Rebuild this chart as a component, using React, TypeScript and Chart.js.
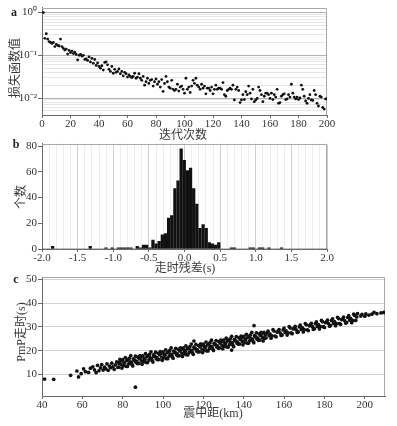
import React, { useEffect, useRef } from 'react';
import { Chart, registerables } from 'chart.js';
Chart.register(...registerables);

// ---------------- data: panel a (loss vs iteration) ----------------
const lossValues = [
  1.0, 0.25, 0.32, 0.24, 0.21, 0.2, 0.19, 0.2, 0.16, 0.18,
  0.17, 0.165, 0.24, 0.16, 0.145, 0.133, 0.14, 0.107, 0.13, 0.115,
  0.125, 0.11, 0.118, 0.105, 0.078, 0.1, 0.105, 0.096, 0.1, 0.08,
  0.082, 0.076, 0.092, 0.07, 0.085, 0.065, 0.08, 0.058, 0.066, 0.055,
  0.05, 0.057, 0.045, 0.068, 0.07, 0.06, 0.047, 0.042, 0.055, 0.038,
  0.047, 0.04, 0.042, 0.048, 0.037, 0.042, 0.033, 0.04, 0.037, 0.031,
  0.035, 0.032, 0.03, 0.032, 0.038, 0.029, 0.031, 0.037, 0.029, 0.026,
  0.032, 0.02, 0.024, 0.029, 0.022, 0.026, 0.027, 0.019, 0.024, 0.028,
  0.021, 0.024, 0.018, 0.027, 0.0143, 0.022, 0.032, 0.024, 0.018, 0.017,
  0.026, 0.016, 0.015, 0.016, 0.021, 0.0145, 0.018, 0.019, 0.016, 0.013,
  0.029, 0.016, 0.018, 0.0135, 0.019, 0.026, 0.022, 0.029, 0.02, 0.018,
  0.016, 0.021, 0.017, 0.019, 0.0125, 0.017, 0.017, 0.015, 0.018, 0.0125,
  0.016, 0.02, 0.016, 0.017, 0.017, 0.016, 0.023, 0.012, 0.011, 0.015,
  0.016, 0.017, 0.016, 0.02, 0.009, 0.016, 0.018, 0.015, 0.0078, 0.009,
  0.012, 0.0092, 0.014, 0.012, 0.019, 0.013, 0.0095, 0.016, 0.0082, 0.009,
  0.0098, 0.018, 0.015, 0.012, 0.0082, 0.011, 0.013, 0.013, 0.012, 0.0098,
  0.013, 0.0092, 0.012, 0.0105, 0.016, 0.0075, 0.0078, 0.011, 0.012, 0.0125,
  0.0092, 0.0095, 0.012, 0.0105, 0.021, 0.013, 0.0105, 0.0095, 0.0105, 0.0092,
  0.01, 0.02, 0.016, 0.011, 0.0085, 0.0075, 0.0098, 0.012, 0.009, 0.0088,
  0.015, 0.012, 0.0075, 0.0065, 0.011, 0.0105, 0.006, 0.0055, 0.0095, 0.0095,
];
const lossTicksX = [0, 20, 40, 60, 80, 100, 120, 140, 160, 180, 200];
const lossDecades = [1, 0.1, 0.01];
const lossDecadeLabels = ['10⁰', '10⁻¹', '10⁻²'];
const lossMin = 0.004;
const lossMax = 1.31;

// ---------------- data: panel b (residual histogram) ----------------
const residBinStart = -2.005;
const residBinWidth = 0.044;
const residCounts = [
  0, 0, 0, 2, 0, 0, 0, 0, 0, 0,
  0, 0, 0, 0, 0, 2, 0, 0, 0, 0,
  1, 0, 1, 0, 1, 1, 1, 1, 1, 0,
  2, 1, 3, 3, 1, 7, 4, 6, 11, 12,
  24, 26, 47, 53, 78, 69, 61, 63, 47, 35,
  16, 19, 16, 5, 4, 3, 5, 0, 0, 0,
  1, 1, 0, 0, 0, 0, 1, 1, 0, 1,
  1, 0, 1, 0, 0, 0, 1, 0, 0, 0,
  0, 0, 0, 0, 0, 0, 0, 0, 0, 0, 0,
];
const residTicksX = [-2, -1.5, -1, -0.5, 0, 0.5, 1, 1.5, 2];
const residTicksY = [0, 20, 40, 60, 80];

// ---------------- data: panel c (PmP travel time vs distance) ----------------
const pnmpPoints: [number, number][] = [
  [41.3, 8.1], [45.8, 8.0], [54.2, 9.7], [57.3, 11.5], [58.1, 9.0], [59.4, 10.4], [60.6, 12.4], [61.5, 11.2],
  [63.1, 10.9], [64.0, 12.7], [65.2, 13.3], [66.0, 12.0], [66.8, 10.8], [67.5, 13.9], [68.2, 11.6], [69.0, 12.8],
  [69.6, 14.2], [70.3, 11.9], [71.0, 13.1], [71.6, 12.4], [72.2, 14.5], [72.8, 11.8], [73.4, 13.6], [74.0, 12.9],
  [74.6, 14.8], [75.2, 13.3], [75.8, 12.2], [76.4, 14.1], [77.0, 15.3], [77.6, 13.0], [78.2, 14.6],
  [78, 13.07], [78.3, 15.07], [78.6, 16.37], [79, 15.73], [79.3, 14.13], [79.6, 12.73],
  [80, 16.29], [80.3, 13.79], [80.6, 15.19], [81, 14.86], [81.3, 17.16], [81.6, 13.46],
  [82, 15.92], [82.3, 13.42], [82.6, 16.32], [83, 14.48], [83.3, 16.88], [83.6, 15.38],
  [84, 17.95], [84.3, 15.15], [84.6, 14.25], [85, 13.61], [85.3, 16.61], [85.6, 16.11],
  [86, 16.07], [86.3, 17.77], [86.6, 15.07], [87, 15.53], [87.3, 14.63], [87.6, 17.33],
  [88, 14.7], [88.3, 16.7], [88.6, 18.0], [89, 17.36], [89.3, 15.76], [89.6, 14.36],
  [90, 17.92], [90.3, 15.42], [90.6, 16.82], [91, 16.49], [91.3, 18.79], [91.6, 15.09],
  [92, 17.55], [92.3, 15.05], [92.6, 17.95], [93, 16.11], [93.3, 18.51], [93.6, 17.01],
  [94, 19.58], [94.3, 16.78], [94.6, 15.88], [95, 15.24], [95.3, 18.24], [95.6, 17.74],
  [96, 17.7], [96.3, 19.4], [96.6, 16.7], [97, 17.16], [97.3, 16.26], [97.6, 18.96],
  [98, 16.33], [98.3, 18.33], [98.6, 19.63], [99, 18.99], [99.3, 17.39], [99.6, 15.99],
  [100, 19.55], [100.3, 17.05], [100.6, 18.45], [101, 18.12], [101.3, 20.42], [101.6, 16.72],
  [102, 19.18], [102.3, 16.68], [102.6, 19.58], [103, 17.74], [103.3, 20.14], [103.6, 18.64],
  [104, 21.21], [104.3, 18.41], [104.6, 17.51], [105, 16.87], [105.3, 19.87], [105.6, 19.37],
  [106, 19.33], [106.3, 21.03], [106.6, 18.33], [107, 18.79], [107.3, 17.89], [107.6, 20.59],
  [108, 17.96], [108.3, 19.96], [108.6, 21.26], [109, 20.62], [109.3, 19.02], [109.6, 17.62],
  [110, 21.18], [110.3, 18.68], [110.6, 20.08], [111, 19.75], [111.3, 22.05], [111.6, 18.35],
  [112, 20.81], [112.3, 18.31], [112.6, 21.21], [113, 19.37], [113.3, 21.77], [113.6, 20.27],
  [114, 22.83], [114.3, 20.03], [114.6, 19.13], [115, 18.5], [115.3, 21.5], [115.6, 21.0],
  [116, 20.96], [116.3, 22.66], [116.6, 19.96], [117, 20.42], [117.3, 19.52], [117.6, 22.22],
  [118, 19.59], [118.3, 21.59], [118.6, 22.89], [119, 22.25], [119.3, 20.65], [119.6, 19.25],
  [120, 22.81], [120.3, 20.31], [120.6, 21.71], [121, 21.38], [121.3, 23.68], [121.6, 19.98],
  [122, 22.44], [122.3, 19.94], [122.6, 22.84], [123, 21.0], [123.3, 23.4], [123.6, 21.9],
  [124, 24.46], [124.3, 21.66], [124.6, 20.76], [125, 20.13], [125.3, 23.13], [125.6, 22.63],
  [126, 22.59], [126.3, 24.29], [126.6, 21.59], [127, 22.05], [127.3, 21.15], [127.6, 23.85],
  [128, 21.22], [128.3, 23.22], [128.6, 24.52], [129, 23.88], [129.3, 22.28], [129.6, 20.88],
  [130, 24.44], [130.3, 21.94], [130.6, 23.34], [131, 23.01], [131.3, 25.31], [131.6, 21.61],
  [132, 24.07], [132.3, 21.57], [132.6, 24.47], [133, 22.63], [133.3, 25.03], [133.6, 23.53],
  [134, 26.09], [134.3, 23.29], [134.6, 22.39], [135, 21.76], [135.3, 24.76], [135.6, 24.26],
  [136, 24.22], [136.3, 25.92], [136.6, 23.22], [137, 23.68], [137.3, 22.78], [137.6, 25.48],
  [138, 22.85], [138.3, 24.85], [138.6, 26.15], [139, 25.51], [139.3, 23.91], [139.6, 22.51],
  [140, 26.07], [140.3, 23.57], [140.6, 24.97], [141, 24.64], [141.3, 26.94], [141.6, 23.24],
  [142, 25.7], [142.3, 23.2], [142.6, 26.1], [143, 24.26], [143.3, 26.66], [143.6, 25.16],
  [144, 27.72], [144.3, 24.92], [144.6, 24.02], [145, 23.39], [145.3, 26.39], [145.6, 25.89],
  [146, 25.85], [146.3, 27.55], [146.6, 24.85], [147, 25.31], [147.3, 24.41], [147.6, 27.11],
  [148, 24.48], [148.3, 26.48], [148.6, 27.78], [149, 27.14], [149.3, 25.54], [149.6, 24.14],
  [150, 27.7], [150.3, 25.2], [150.6, 26.6],
  [151, 25.37], [151.5, 27.47], [152, 28.23], [152.5, 26.33], [153, 27.09], [153.5, 25.29],
  [154, 26.25], [154.5, 28.85], [155, 28.32], [155.5, 26.22], [156, 25.88], [156.5, 27.88],
  [157, 28.24], [157.5, 28.94], [158, 27.51], [158.5, 26.41], [159, 26.67], [159.5, 28.77],
  [160, 29.53], [160.5, 27.63], [161, 28.4], [161.5, 26.6], [162, 27.56], [162.5, 30.16],
  [163, 29.62], [163.5, 27.52], [164, 27.18], [164.5, 29.18], [165, 29.55], [165.5, 30.25],
  [166, 28.81], [166.5, 27.71], [167, 27.97], [167.5, 30.07], [168, 30.84], [168.5, 28.94],
  [169, 29.7], [169.5, 27.9], [170, 28.86], [170.5, 31.46], [171, 30.93], [171.5, 28.83],
  [172, 28.49], [172.5, 30.49], [173, 30.85], [173.5, 31.55], [174, 30.11], [174.5, 29.01],
  [175, 29.28], [175.5, 31.38], [176, 32.14], [176.5, 30.24], [177, 31.0], [177.5, 29.2],
  [178, 30.17], [178.5, 32.77], [179, 32.23], [179.5, 30.13], [180, 29.79], [180.5, 31.79],
  [181, 32.16], [181.5, 32.86], [182, 31.42], [182.5, 30.32], [183, 30.58], [183.5, 32.68],
  [184, 33.44], [184.5, 31.54], [185, 32.31], [185.5, 30.51], [186, 31.47], [186.5, 34.07],
  [187, 33.53], [187.5, 31.43], [188, 31.1], [188.5, 33.1], [189, 33.46], [189.5, 34.16],
  [190, 32.72], [190.5, 31.62], [191, 31.89], [191.5, 33.99], [192, 34.75], [192.5, 32.85],
  [193, 33.61], [193.5, 31.81], [194, 32.77], [194.5, 35.37], [195, 34.84], [195.5, 32.74],
  [196, 34.2], [196.4, 35.6], [198, 34.6], [198.6, 35.3], [200, 34.5], [200.5, 35.5],
  [202, 35.0], [203.5, 35.4], [204.6, 36.1], [206, 35.6], [208, 35.9], [209.4, 36.1],
  [86.3, 4.7], [115.3, 24.1], [145.1, 30.6], [134, 20.3],
];
const pnmpTicksX = [40, 60, 80, 100, 120, 140, 160, 180, 200];
const pnmpTicksY = [10, 20, 30, 40, 50];

// ---------------- styles ----------------
const SERIF = "'Liberation Serif', 'Times New Roman', 'Noto Sans CJK SC', serif";
const TICK_FONT = { family: SERIF, size: 11 };
const TICK_COLOR = '#333';
const AXIS_COLOR = '#6a6a6a';
const FRAME_COLOR = '#a8a8a8';
const DOT_COLOR = '#111';
const CLEAR = 'rgba(0,0,0,0)';

const framePlugin = {
  id: 'frame',
  beforeDatasetsDraw(chart: any) {
    const { ctx, chartArea } = chart;
    const t = Math.round(chartArea.top) + 0.5;
    const r = Math.round(chartArea.right) - 0.5;
    ctx.save();
    ctx.strokeStyle = FRAME_COLOR;
    ctx.lineWidth = 1;
    ctx.beginPath();
    ctx.moveTo(chartArea.left, t);
    ctx.lineTo(r, t);
    ctx.lineTo(r, chartArea.bottom);
    ctx.stroke();
    ctx.restore();
  },
};

const fixW = (w: number) => (s: any) => { s.width = w; };
const fixH = (h: number) => (s: any) => { s.height = h; };
const setTicks = (vals: number[]) => (s: any) => { s.ticks = vals.map((v) => ({ value: v })); };
const isDecade = (v: number) => Math.abs(Math.log10(v) - Math.round(Math.log10(v))) < 1e-6;
const isHalf = (v: number) => Math.abs(v * 2 - Math.round(v * 2)) < 1e-6;

const baseOptions = (padding: any) => ({
  responsive: false,
  animation: false as const,
  events: [] as any[],
  layout: { padding },
  plugins: { legend: { display: false }, tooltip: { enabled: false } },
});

function configA(): any {
  return {
    type: 'scatter',
    data: {
      datasets: [{
        data: lossValues.map((v, i) => ({ x: i + 1, y: v })),
        backgroundColor: DOT_COLOR,
        borderWidth: 0,
        pointRadius: 1.4,
      }],
    },
    options: {
      ...baseOptions({ top: 7, right: 70, left: 0, bottom: 0 }),
      scales: {
        x: {
          type: 'linear', min: 0, max: 200,
          afterFit: fixH(28),
          afterBuildTicks: setTicks(lossTicksX),
          grid: { drawOnChartArea: false, tickLength: 3, tickColor: AXIS_COLOR },
          border: { color: AXIS_COLOR },
          ticks: { font: TICK_FONT, color: TICK_COLOR, padding: 0, maxRotation: 0, autoSkip: false },
        },
        y: {
          type: 'logarithmic', min: lossMin, max: lossMax,
          afterFit: fixW(42),
          afterBuildTicks: (s: any) => {
            const vals: number[] = [];
            for (let e = -3; e <= 0; e++) {
              for (let m = 1; m <= 9; m++) {
                const v = +(m * Math.pow(10, e)).toPrecision(3);
                if (v >= lossMin - 1e-9 && v <= lossMax) vals.push(v);
              }
            }
            s.ticks = vals.map((v) => ({ value: v }));
          },
          grid: {
            color: (c: any) => (c.tick && isDecade(c.tick.value) ? '#b4b4b4' : '#e6e6e6'),
            tickColor: (c: any) => (c.tick && isDecade(c.tick.value) ? AXIS_COLOR : CLEAR),
            tickLength: 4,
          },
          border: { color: AXIS_COLOR },
          ticks: {
            font: TICK_FONT, color: TICK_COLOR, padding: 1, autoSkip: false,
            callback: (v: number) => {
              const i = lossDecades.findIndex((d) => Math.abs(d - v) < 1e-9);
              return i >= 0 ? lossDecadeLabels[i] : '';
            },
          },
        },
      },
    },
    plugins: [framePlugin],
  };
}

function configB(): any {
  return {
    type: 'bar',
    data: {
      datasets: [{
        data: residCounts.map((c, i) => ({ x: residBinStart + residBinWidth * (i + 0.5), y: c })),
        backgroundColor: '#111',
        borderWidth: 0,
        barThickness: 2.6,
      }],
    },
    options: {
      ...baseOptions({ top: 7, right: 70, left: 0, bottom: 0 }),
      scales: {
        x: {
          type: 'linear', min: -2, max: 2, offset: false,
          afterFit: fixH(27),
          afterBuildTicks: (s: any) => {
            const vals: number[] = [];
            for (let k = -20; k <= 20; k++) vals.push(k / 10);
            s.ticks = vals.map((v) => ({ value: v }));
          },
          grid: {
            offset: false,
            color: (c: any) => (c.tick && isHalf(c.tick.value) ? '#cfcfcf' : '#ededed'),
            tickColor: (c: any) => (c.tick && isHalf(c.tick.value) ? AXIS_COLOR : CLEAR),
            tickLength: 3,
          },
          border: { color: AXIS_COLOR },
          ticks: {
            font: TICK_FONT, color: TICK_COLOR, padding: 0, maxRotation: 0, autoSkip: false,
            callback: (v: number) => {
              const i = residTicksX.findIndex((t) => Math.abs(t - v) < 1e-6);
              return i >= 0 ? residTicksX[i].toFixed(1) : '';
            },
          },
        },
        y: {
          type: 'linear', min: 0, max: 82,
          afterFit: fixW(42),
          afterBuildTicks: setTicks(residTicksY),
          grid: { drawOnChartArea: false, tickLength: 4, tickColor: AXIS_COLOR },
          border: { color: AXIS_COLOR },
          ticks: { font: TICK_FONT, color: TICK_COLOR, padding: 1, autoSkip: false },
        },
      },
    },
    plugins: [framePlugin],
  };
}

function configC(): any {
  return {
    type: 'scatter',
    data: {
      datasets: [{
        data: pnmpPoints.map(([x, y]) => ({ x, y })),
        backgroundColor: DOT_COLOR,
        borderWidth: 0,
        pointRadius: 1.85,
      }],
    },
    options: {
      ...baseOptions({ top: 9, right: 12, left: 0, bottom: 0 }),
      scales: {
        x: {
          type: 'linear', min: 40, max: 210,
          afterFit: fixH(30),
          afterBuildTicks: setTicks(pnmpTicksX),
          grid: { drawOnChartArea: false, tickLength: 3, tickColor: AXIS_COLOR },
          border: { color: AXIS_COLOR },
          ticks: { font: TICK_FONT, color: TICK_COLOR, padding: 0, maxRotation: 0, autoSkip: false },
        },
        y: {
          type: 'linear', min: 1, max: 51,
          afterFit: fixW(42),
          afterBuildTicks: setTicks(pnmpTicksY),
          grid: { color: '#d2d2d2', tickLength: 4, tickColor: AXIS_COLOR },
          border: { color: AXIS_COLOR },
          ticks: { font: TICK_FONT, color: TICK_COLOR, padding: 1, autoSkip: false },
        },
      },
    },
    plugins: [framePlugin],
  };
}

const textBase: React.CSSProperties = {
  position: 'absolute',
  whiteSpace: 'nowrap',
  lineHeight: 1,
  color: '#3a3a3a',
  fontFamily: SERIF,
  fontSize: 12,
};

function Label({ x, y, text, rotate, style }: { x: number; y: number; text: string; rotate?: boolean; style?: React.CSSProperties }) {
  return (
    <div
      style={{
        ...textBase,
        left: x,
        top: y,
        transform: `translate(-50%, -50%)${rotate ? ' rotate(-90deg)' : ''}`,
        ...style,
      }}
    >
      {text}
    </div>
  );
}

export default function App() {
  const aRef = useRef<HTMLCanvasElement>(null);
  const bRef = useRef<HTMLCanvasElement>(null);
  const cRef = useRef<HTMLCanvasElement>(null);

  useEffect(() => {
    const charts = [
      new Chart(aRef.current as HTMLCanvasElement, configA()),
      new Chart(bRef.current as HTMLCanvasElement, configB()),
      new Chart(cRef.current as HTMLCanvasElement, configC()),
    ];
    return () => charts.forEach((c) => c.destroy());
  }, []);

  const letter: React.CSSProperties = { fontWeight: 'bold', color: '#222', fontSize: 12 };

  return (
    <div style={{ position: 'fixed', left: 0, top: 0, width: 397, height: 426, background: '#fff', overflow: 'hidden' }}>
      <canvas ref={aRef} width={397} height={143} style={{ position: 'absolute', left: 0, top: 0, width: 397, height: 143 }} />
      <canvas ref={bRef} width={397} height={140} style={{ position: 'absolute', left: 0, top: 136, width: 397, height: 140 }} />
      <canvas ref={cRef} width={397} height={158} style={{ position: 'absolute', left: 0, top: 268, width: 397, height: 158 }} />

      <Label x={14} y={12} text="a" style={letter} />
      <Label x={16} y={144} text="b" style={letter} />
      <Label x={16} y={279} text="c" style={letter} />

      <Label x={15} y={68} text="损失函数值" rotate />
      <Label x={183} y={134.5} text="迭代次数" />
      <Label x={20.5} y={197} text="个数" rotate />
      <Label x={185} y={268} text="走时残差(s)" />
      <Label x={21} y={332} text="PmP走时(s)" rotate />
      <Label x={213} y={413} text="震中距(km)" />
    </div>
  );
}
